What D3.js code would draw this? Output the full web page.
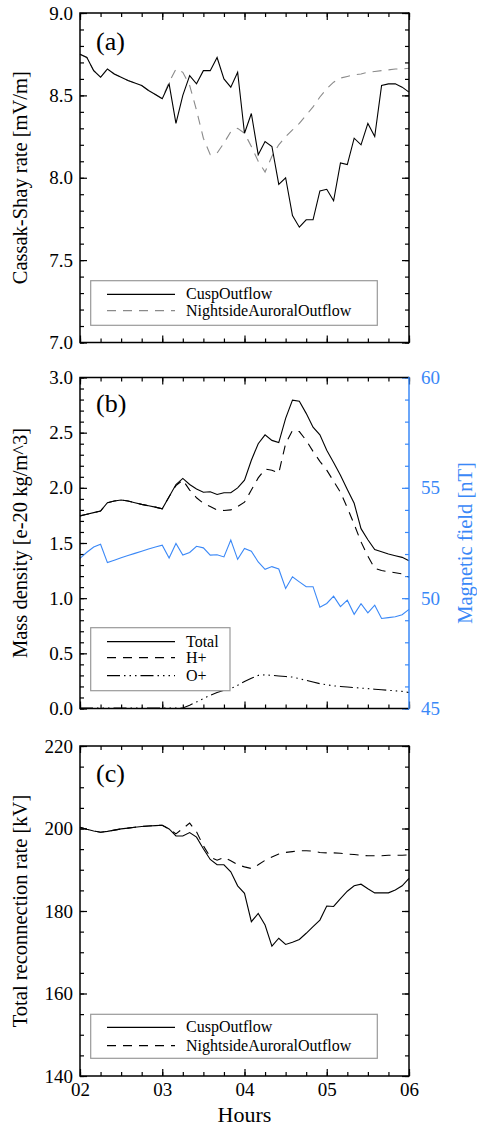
<!DOCTYPE html>
<html>
<head>
<meta charset="utf-8">
<script src="https://cdn.jsdelivr.net/npm/d3@7"></script>
<style>
  body { margin: 0; background: #fff; }
  svg { display: block; }
  text { font-family: "Liberation Serif", "Times New Roman", serif; }
</style>
</head>
<body>
<div id="chart"></div>
<script>
// minutes after 02:00 UT
const minutes = [0,5,10,15,20,25,30,35,40,45,50,55,60,65,70,75,80,85,90,95,100,105,110,115,120,
  125,130,135,140,145,150,155,160,165,170,175,180,185,190,195,200,205,210,215,220,225,230,235,240]
const hour_ticks = [2, 3, 4, 5, 6]
const hour_labels = ['02', '03', '04', '05', '06']

// (a) Cassak-Shay rate [mV/m]
const cusp_rate = [8.75,8.73,8.65,8.61,8.66,8.63,8.61,8.59,8.575,8.56,8.53,8.505,8.48,
  8.57,8.33,8.50,8.62,8.57,8.65,8.65,8.73,8.60,8.55,8.64,8.27,
  8.39,8.14,8.22,8.19,7.96,8.00,7.77,7.70,7.745,7.745,7.92,7.93,
  7.86,8.09,8.08,8.24,8.20,8.33,8.25,8.56,8.57,8.57,8.55,8.52]
const night_rate = [8.75,8.73,8.65,8.61,8.66,8.63,8.61,8.59,8.575,8.56,8.53,8.505,8.48,
  8.58,8.66,8.64,8.56,8.41,8.24,8.14,8.15,8.21,8.28,8.30,8.27,
  8.19,8.10,8.035,8.13,8.20,8.25,8.29,8.33,8.38,8.43,8.49,8.54,
  8.58,8.605,8.615,8.625,8.63,8.64,8.645,8.65,8.655,8.66,8.66,8.665]
const rate_ticks = [7.0, 7.5, 8.0, 8.5, 9.0]

// (b) mass density [e-20 kg/m^3] and magnetic field [nT]
const total_density = [1.746,1.76,1.775,1.79,1.865,1.88,1.89,1.88,1.865,1.85,1.837,1.825,1.81,
  1.92,2.03,2.085,2.03,1.99,1.96,1.965,1.94,1.955,1.955,2.0,2.07,
  2.25,2.40,2.48,2.43,2.41,2.63,2.795,2.785,2.675,2.55,2.48,2.34,
  2.23,2.115,1.985,1.86,1.63,1.53,1.44,1.42,1.40,1.385,1.37,1.34]
const h_density = [1.746,1.76,1.775,1.79,1.865,1.88,1.89,1.88,1.865,1.85,1.837,1.825,1.81,
  1.92,2.02,2.07,1.98,1.91,1.86,1.83,1.80,1.795,1.80,1.83,1.87,
  1.98,2.09,2.17,2.16,2.135,2.40,2.52,2.51,2.43,2.33,2.24,2.16,
  2.06,1.96,1.82,1.67,1.51,1.38,1.27,1.25,1.24,1.23,1.22,1.19]
const o_density = [0.004,0.004,0.004,0.004,0.004,0.004,0.004,0.004,0.004,0.004,0.004,0.004,0.004,
  0.004,0.004,0.004,0.03,0.06,0.09,0.12,0.145,0.165,0.18,0.21,0.245,
  0.275,0.30,0.305,0.30,0.295,0.29,0.285,0.27,0.255,0.24,0.225,0.215,
  0.205,0.20,0.195,0.19,0.185,0.18,0.175,0.17,0.165,0.16,0.155,0.145]
const mag_field = [51.80,52.08,52.32,52.44,51.61,51.72,51.83,51.93,52.03,52.13,52.23,52.32,52.40,
  51.82,52.48,51.95,52.07,52.35,52.28,51.95,51.97,51.87,52.63,51.76,52.25,
  52.13,51.64,51.31,51.43,51.32,50.44,50.97,50.74,50.52,50.52,49.59,49.76,
  50.09,49.62,49.91,49.27,49.75,49.33,49.68,49.08,49.12,49.16,49.25,49.49]
const density_ticks = [0.0, 0.5, 1.0, 1.5, 2.0, 2.5, 3.0]
const field_ticks = [45, 50, 55, 60]

// (c) total reconnection rate [kV]
const cusp_recon = [200.3,199.8,199.4,199.1,199.3,199.6,199.9,200.1,200.3,200.5,200.6,200.7,200.8,
  199.9,198.2,198.2,199.0,197.9,195.1,192.5,191.2,191.2,189.5,186.1,184.3,
  177.4,179.4,176.6,171.5,173.4,171.9,172.4,173.1,174.6,176.2,177.8,181.2,
  181.1,183.0,184.8,186.1,186.5,185.4,184.4,184.4,184.4,185.1,186.1,187.9]
const night_recon = [200.3,199.8,199.4,199.1,199.3,199.6,199.9,200.1,200.3,200.5,200.6,200.7,200.8,
  199.9,198.7,200.0,201.3,199.2,195.8,193.1,192.3,193.0,192.2,191.2,190.7,
  190.3,191.2,192.3,193.1,193.8,194.2,194.4,194.6,194.6,194.5,194.2,194.1,
  194.1,194.0,193.8,193.7,193.5,193.4,193.4,193.4,193.5,193.5,193.5,193.6]
const recon_ticks = [140, 160, 180, 200, 220]

const blue = '#3a88f7'
const grey = '#8a8a8a'
const dashed = '9,7'
const dashdots = '13,4,1.5,4,1.5,4,1.5,4'

const hours = minutes.map(m => 2 + m/60)
const x_left = 80, x_right = 409

const svg = d3.select('#chart').append('svg')
  .attr('width', 477)
  .attr('height', 1131)
svg.append('rect').attr('width', 477).attr('height', 1131).attr('fill', '#fff')

const x = d3.scaleLinear().domain([2, 6]).range([x_left, x_right])

function strip(g) {
  g.select('.domain').remove()
  g.selectAll('text').attr('font-size', '19px').attr('font-family', null)
}

// draws the frame, ticks and labels for one panel
function panel(top, bottom, domain, major, minor_step, fmt, show_x) {
  let y = d3.scaleLinear().domain(domain).range([bottom, top])
  let g = svg.append('g')
  let minor_x = d3.range(2, 6.001, 0.25)
  let minor_y = d3.range(domain[0], domain[1] + minor_step/2, minor_step)

  g.append('g').attr('transform', `translate(0,${bottom})`)
    .call(d3.axisBottom(x).tickValues(minor_x).tickSize(-4).tickFormat(''))
    .call(strip)
  g.append('g').attr('transform', `translate(0,${bottom})`)
    .call(d3.axisBottom(x).tickValues(hour_ticks).tickSize(-7).tickPadding(7)
      .tickFormat((d, i) => show_x ? hour_labels[i] : ''))
    .call(strip)
  g.append('g').attr('transform', `translate(0,${top})`)
    .call(d3.axisTop(x).tickValues(minor_x).tickSize(-4).tickFormat(''))
    .call(strip)
  g.append('g').attr('transform', `translate(0,${top})`)
    .call(d3.axisTop(x).tickValues(hour_ticks).tickSize(-7).tickFormat(''))
    .call(strip)

  g.append('g').attr('transform', `translate(${x_left},0)`)
    .call(d3.axisLeft(y).tickValues(minor_y).tickSize(-4).tickFormat(''))
    .call(strip)
  g.append('g').attr('transform', `translate(${x_left},0)`)
    .call(d3.axisLeft(y).tickValues(major).tickSize(-7).tickPadding(7).tickFormat(fmt))
    .call(strip)

  g.selectAll('.tick line').attr('stroke', '#000').attr('stroke-width', 1.2)
  return {y: y, g: g}
}

function right_ticks(g, y, major, minor, fmt, colour) {
  let r = g.append('g').attr('transform', `translate(${x_right},0)`)
  r.append('g').call(d3.axisRight(y).tickValues(minor).tickSize(-4).tickFormat('')).call(strip)
  r.append('g').call(d3.axisRight(y).tickValues(major).tickSize(-7).tickPadding(12).tickFormat(fmt)).call(strip)
  r.selectAll('.tick line').attr('stroke', colour).attr('stroke-width', 1.2)
  r.selectAll('text').attr('fill', colour)
}

function box(top, bottom, right_colour) {
  let b = svg.append('g').attr('fill', 'none').attr('stroke-width', 1.5)
  b.append('path').attr('stroke', '#000')
    .attr('d', `M${x_right},${top}H${x_left}V${bottom}H${x_right}`)
  b.append('line').attr('stroke', right_colour)
    .attr('x1', x_right).attr('x2', x_right).attr('y1', top - 0.75).attr('y2', bottom + 0.75)
}

function series(y, values, colour, dash) {
  let line = d3.line().x((d, i) => x(hours[i])).y(d => y(d))
  svg.append('path').datum(values)
    .attr('d', line)
    .attr('fill', 'none')
    .attr('stroke', colour)
    .attr('stroke-width', 1.1)
    .attr('stroke-dasharray', dash)
}

function legend(x0, y0, w, h, items) {
  let lg = svg.append('g')
  lg.append('rect').attr('x', x0).attr('y', y0).attr('width', w).attr('height', h)
    .attr('fill', '#fff').attr('stroke', '#999').attr('stroke-width', 1.2)
  items.forEach((it, i) => {
    let yy = it.y
    lg.append('line').attr('x1', 107).attr('x2', 175).attr('y1', yy).attr('y2', yy)
      .attr('stroke', it.colour).attr('stroke-width', 1.2).attr('stroke-dasharray', it.dash)
    lg.append('text').attr('x', 186).attr('y', yy + 5).attr('font-size', '16px')
      .attr('fill', '#000').text(it.label)
  })
}

function ytitle(cx, cy, label, colour) {
  svg.append('text')
    .attr('transform', `translate(${cx},${cy}) rotate(-90)`)
    .attr('text-anchor', 'middle')
    .attr('font-size', '20.5px')
    .attr('fill', colour)
    .text(label)
}

function tag(x0, y0, label) {
  svg.append('text').attr('x', x0).attr('y', y0).attr('font-size', '26px').text(label)
}

const fmt1 = d3.format('.1f')

// panel (a)
let pa = panel(13, 342.5, [7, 9], rate_ticks, 0.1, fmt1, false)
right_ticks(pa.g, pa.y, rate_ticks, d3.range(7, 9.05, 0.1), '', '#000')
series(pa.y, night_rate, grey, dashed)
series(pa.y, cusp_rate, '#000', null)
box(13, 342.5, '#000')
legend(90.7, 280.7, 286.6, 44.6, [
  {label: 'CuspOutflow', colour: '#000', dash: null, y: 294.3},
  {label: 'NightsideAuroralOutflow', colour: grey, dash: dashed, y: 310.7}
])
tag(96, 50, '(a)')
ytitle(27, 177.75, 'Cassak-Shay rate [mV/m]', '#000')

// panel (b)
let pb = panel(377.5, 708.5, [0, 3], density_ticks, 0.1, fmt1, false)
let yb = d3.scaleLinear().domain([45, 60]).range([708.5, 377.5])
right_ticks(pb.g, yb, field_ticks, d3.range(45, 60.5, 1), d3.format('d'), blue)
series(yb, mag_field, blue, null)
series(pb.y, o_density, '#000', dashdots)
series(pb.y, h_density, '#000', dashed)
series(pb.y, total_density, '#000', null)
box(377.5, 708.5, blue)
legend(90.7, 627.7, 139.3, 63, [
  {label: 'Total', colour: '#000', dash: null, y: 641.7},
  {label: 'H+', colour: '#000', dash: dashed, y: 657.7},
  {label: 'O+', colour: '#000', dash: dashdots, y: 675.7}
])
tag(96, 412, '(b)')
ytitle(27, 543, 'Mass density [e-20 kg/m^3]', '#000')
ytitle(472, 543, 'Magnetic field [nT]', blue)

// panel (c)
let pc = panel(746, 1076, [140, 220], recon_ticks, 5, d3.format('d'), true)
right_ticks(pc.g, pc.y, recon_ticks, d3.range(140, 221, 5), '', '#000')
series(pc.y, night_recon, '#000', dashed)
series(pc.y, cusp_recon, '#000', null)
box(746, 1076, '#000')
legend(90.7, 1014.3, 286.6, 44, [
  {label: 'CuspOutflow', colour: '#000', dash: null, y: 1027.3},
  {label: 'NightsideAuroralOutflow', colour: '#000', dash: dashed, y: 1045.7}
])
tag(96, 782, '(c)')
ytitle(27, 911, 'Total reconnection rate [kV]', '#000')

svg.append('text')
  .attr('x', (x_left + x_right) / 2)
  .attr('y', 1122)
  .attr('text-anchor', 'middle')
  .attr('font-size', '22px')
  .text('Hours')
</script>
</body>
</html>
